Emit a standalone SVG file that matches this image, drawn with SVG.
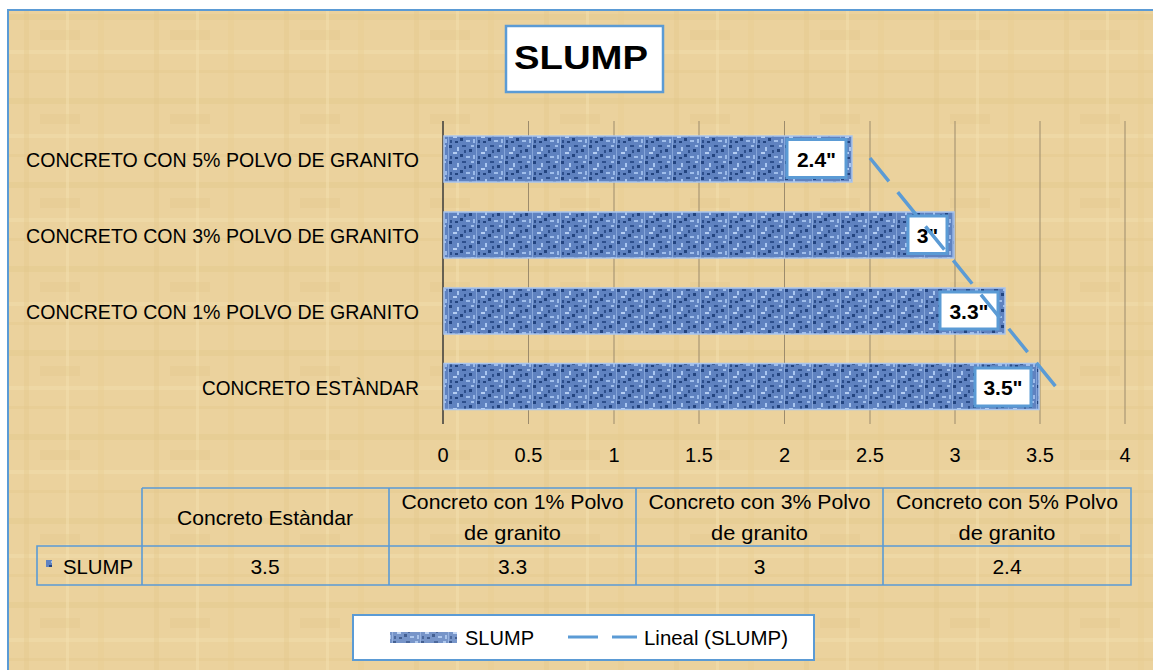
<svg xmlns="http://www.w3.org/2000/svg" width="1153" height="670" viewBox="0 0 1153 670">
<style>
.t{font-family:"Liberation Sans",Arial,sans-serif;fill:#000}
.cat{font-size:21px;text-anchor:end}
.ax{font-size:20px;text-anchor:middle}
.tb{font-size:21px;text-anchor:middle}
.lbl{font-size:21px;font-weight:bold;text-anchor:middle}
.box{fill:#fff;stroke:#5B9BD5;stroke-width:3}
.grid{stroke:#9C8B6C;stroke-width:1}
.tl{stroke:#5B9BD5;stroke-width:1.6;fill:none}
.bar{fill:url(#blu);stroke:#A9C5EE;stroke-width:1.5}
</style>
<defs>
<pattern id="pap" patternUnits="userSpaceOnUse" width="130" height="84">
<rect width="130" height="84" fill="#EBD29D"/>
<rect x="0" y="14" width="130" height="6" fill="#E4C98D" opacity="0.5"/>
<rect x="0" y="50" width="130" height="4" fill="#F2DDAE" opacity="0.5"/>
<rect x="0" y="70" width="130" height="3" fill="#E3C68A" opacity="0.35"/>
<rect x="24" y="0" width="5" height="84" fill="#E3C68A" opacity="0.35"/>
<rect x="66" y="0" width="3" height="84" fill="#F3DFB0" opacity="0.5"/>
<rect x="98" y="0" width="6" height="84" fill="#E6CB90" opacity="0.35"/>
<rect x="40" y="30" width="40" height="10" fill="#E1C383" opacity="0.25"/>
</pattern>
<pattern id="blu" patternUnits="userSpaceOnUse" width="28" height="16">
<rect width="28" height="16" fill="#5F82C0"/>
<rect x="1" y="1" width="3" height="3" fill="#23447F"/>
<rect x="9" y="3" width="2" height="4" fill="#A9C6F0"/>
<rect x="14" y="1" width="4" height="2" fill="#2D4F8C"/>
<rect x="21" y="5" width="3" height="3" fill="#23447F"/>
<rect x="5" y="8" width="4" height="2" fill="#B5CEF2"/>
<rect x="12" y="10" width="3" height="3" fill="#23447F"/>
<rect x="18" y="12" width="4" height="2" fill="#A0BEEB"/>
<rect x="2" y="12" width="2" height="3" fill="#2D4F8C"/>
<rect x="25" y="11" width="2" height="4" fill="#9BBAE8"/>
<rect x="7" y="13" width="3" height="2" fill="#23447F"/>
<rect x="23" y="1" width="3" height="2" fill="#A0BEEB"/>
<rect x="16" y="6" width="2" height="3" fill="#2D4F8C"/>
<rect x="0" y="0" width="1" height="16" fill="#9FBDEA" opacity="0.6"/>
</pattern>
</defs>
<rect width="1153" height="670" fill="#fff"/>
<rect x="8" y="10" width="1160" height="680" fill="url(#pap)" stroke="#5B9BD5" stroke-width="2"/>

<g id="title">
<rect x="506" y="26" width="157" height="66" fill="#fff" stroke="#5B9BD5" stroke-width="2.5"/>
<text class="t" x="581" y="69" font-size="34" font-weight="bold" text-anchor="middle" textLength="134" lengthAdjust="spacingAndGlyphs">SLUMP</text>
</g>

<g id="grid">
<line class="grid" x1="528.5" y1="121" x2="528.5" y2="424"/>
<line class="grid" x1="614" y1="121" x2="614" y2="424"/>
<line class="grid" x1="699" y1="121" x2="699" y2="424"/>
<line class="grid" x1="784.5" y1="121" x2="784.5" y2="424"/>
<line class="grid" x1="870" y1="121" x2="870" y2="424"/>
<line class="grid" x1="955" y1="121" x2="955" y2="424"/>
<line class="grid" x1="1040" y1="121" x2="1040" y2="424"/>
<line class="grid" x1="1125" y1="121" x2="1125" y2="424"/>
<line x1="443" y1="121" x2="443" y2="424" stroke="#3a3a3a" stroke-width="1.5"/>
</g>

<g id="categories">
<text class="t cat" x="419" y="167" textLength="393" lengthAdjust="spacingAndGlyphs">CONCRETO CON 5% POLVO DE GRANITO</text>
<text class="t cat" x="419" y="243" textLength="393" lengthAdjust="spacingAndGlyphs">CONCRETO CON 3% POLVO DE GRANITO</text>
<text class="t cat" x="419" y="319" textLength="393" lengthAdjust="spacingAndGlyphs">CONCRETO CON 1% POLVO DE GRANITO</text>
<text class="t cat" x="419" y="395" textLength="217" lengthAdjust="spacingAndGlyphs">CONCRETO ESTÀNDAR</text>
</g>

<g id="bars">
<rect id="bar-5" class="bar" x="444" y="136" width="408" height="46"/>
<rect id="bar-3" class="bar" x="444" y="212" width="510" height="46"/>
<rect id="bar-1" class="bar" x="444" y="288" width="561" height="46"/>
<rect id="bar-0" class="bar" x="444" y="363.5" width="595" height="46"/>
</g>

<g id="labels">
<g id="lbl-24"><rect class="box" x="787" y="139.5" width="59" height="38"/><text class="t lbl" x="816.5" y="166.5">2.4"</text></g>
<g id="lbl-3"><rect class="box" x="908" y="216" width="39" height="37.5"/><text class="t lbl" x="927.5" y="243">3"</text></g>
<g id="lbl-33"><rect class="box" x="940" y="292" width="58" height="37"/><text class="t lbl" x="969" y="319">3.3"</text></g>
<g id="lbl-35"><rect class="box" x="975" y="368" width="56" height="38"/><text class="t lbl" x="1003" y="395">3.5"</text></g>
</g>

<g id="connectors">
<line id="trend" x1="870" y1="158" x2="1056" y2="387" stroke="#5B9BD5" stroke-width="3.5" stroke-dasharray="30 14"/>
</g>

<g id="axis">
<text class="t ax" x="443" y="462">0</text>
<text class="t ax" x="528.5" y="462">0.5</text>
<text class="t ax" x="614" y="462">1</text>
<text class="t ax" x="699" y="462">1.5</text>
<text class="t ax" x="784.5" y="462">2</text>
<text class="t ax" x="870" y="462">2.5</text>
<text class="t ax" x="955" y="462">3</text>
<text class="t ax" x="1040" y="462">3.5</text>
<text class="t ax" x="1125" y="462">4</text>
</g>

<g id="table">
<path class="tl" d="M142 488H1131V585H37V546H1131M142 488V585M389 488V585M636 488V585M883 488V585"/>
<text class="t tb" x="265" y="525" textLength="176" lengthAdjust="spacingAndGlyphs">Concreto Estàndar</text>
<text class="t tb" x="512.5" y="509" textLength="222" lengthAdjust="spacingAndGlyphs">Concreto con 1% Polvo</text>
<text class="t tb" x="512.5" y="540" textLength="97" lengthAdjust="spacingAndGlyphs">de granito</text>
<text class="t tb" x="759.5" y="509" textLength="222" lengthAdjust="spacingAndGlyphs">Concreto con 3% Polvo</text>
<text class="t tb" x="759.5" y="540" textLength="97" lengthAdjust="spacingAndGlyphs">de granito</text>
<text class="t tb" x="1007" y="509" textLength="222" lengthAdjust="spacingAndGlyphs">Concreto con 5% Polvo</text>
<text class="t tb" x="1007" y="540" textLength="97" lengthAdjust="spacingAndGlyphs">de granito</text>
<rect x="46" y="560" width="6" height="7" fill="url(#blu)"/>
<text class="t" x="63" y="574" font-size="21" textLength="70" lengthAdjust="spacingAndGlyphs">SLUMP</text>
<text class="t tb" x="265" y="574">3.5</text>
<text class="t tb" x="512.5" y="574">3.3</text>
<text class="t tb" x="759.5" y="574">3</text>
<text class="t tb" x="1007" y="574">2.4</text>
</g>

<g id="legend">
<rect x="353" y="615" width="461" height="45" fill="#fff" stroke="#5B9BD5" stroke-width="2"/>
<rect x="390" y="632" width="67" height="11" fill="url(#blu)" opacity="0.85"/>
<text class="t" x="465" y="645" font-size="21" textLength="69" lengthAdjust="spacingAndGlyphs">SLUMP</text>
<line x1="568" y1="637" x2="598" y2="637" stroke="#5B9BD5" stroke-width="3"/>
<line x1="612" y1="637" x2="637" y2="637" stroke="#5B9BD5" stroke-width="3"/>
<text class="t" x="644" y="645" font-size="21" textLength="144" lengthAdjust="spacingAndGlyphs">Lineal (SLUMP)</text>
</g>
</svg>
